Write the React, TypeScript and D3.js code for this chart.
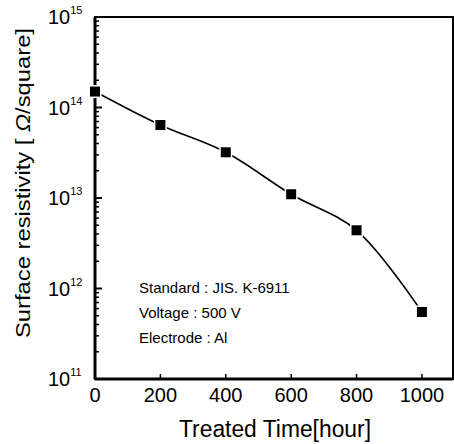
import * as d3 from "d3";

// treated time (hour) and measured surface resistivity (ohm/square)
const hours = [0, 200, 400, 600, 800, 1000];
const resistivity = [1.5e14, 6.4e13, 3.2e13, 1.1e13, 4.4e12, 5.5e11];
const xTicks = [0, 200, 400, 600, 800, 1000];
const yExponents = [11, 12, 13, 14, 15];
const notes = ["Standard : JIS. K-6911", "Voltage : 500 V", "Electrode : Al"];

const W = 454;
const H = 444;
const left = 95;
const right = 453;
const top = 17;
const bottom = 379;
const font = "Liberation Sans, Arial, sans-serif";

export default function App() {
  const x = d3.scaleLinear().domain([0, 1095]).range([left, right]);
  const y = d3.scaleLog().domain([1e11, 1e15]).range([bottom, top]);

  const line = d3
    .line<number>()
    .x((_, i) => x(hours[i]))
    .y((d) => y(d))
    .curve(d3.curveCatmullRom.alpha(0.5));

  // minor ticks 2..9 for each decade
  const minor: number[] = [];
  for (let e = 11; e < 15; e++) {
    for (let m = 2; m <= 9; m++) minor.push(m * Math.pow(10, e));
  }

  return (
    <svg
      width={W}
      height={H}
      style={{ position: "absolute", left: 0, top: 0, background: "#fff" }}
      fontFamily={font}
    >
      {/* frame */}
      <rect
        x={left}
        y={top}
        width={right - left}
        height={bottom - top}
        fill="none"
        stroke="#000"
        strokeWidth={2}
      />
      <line x1={left} x2={left} y1={top} y2={bottom} stroke="#000" strokeWidth={3} />
      <line x1={left} x2={right} y1={bottom} y2={bottom} stroke="#000" strokeWidth={3} />

      {/* y ticks */}
      {minor.map((v) => (
        <line key={v} x1={left} x2={left + 4} y1={y(v)} y2={y(v)} stroke="#000" strokeWidth={1.5} />
      ))}
      {yExponents.map((e) => (
        <g key={e}>
          <line
            x1={left}
            x2={left + 7}
            y1={y(Math.pow(10, e))}
            y2={y(Math.pow(10, e))}
            stroke="#000"
            strokeWidth={2}
          />
          <text x={48} y={y(Math.pow(10, e)) + 7} fontSize={20} fill="#000">
            10
            <tspan dy={-10} fontSize={11}>
              {e}
            </tspan>
          </text>
        </g>
      ))}

      {/* x ticks */}
      {xTicks.map((t) => (
        <g key={t}>
          <line x1={x(t)} x2={x(t)} y1={bottom} y2={bottom - 5} stroke="#000" strokeWidth={1.5} />
          <text x={x(t)} y={bottom + 23} fontSize={20} textAnchor="middle" fill="#000">
            {t}
          </text>
        </g>
      ))}

      {/* axis titles */}
      <text
        x={275}
        y={437}
        fontSize={23}
        textAnchor="middle"
        textLength={192}
        lengthAdjust="spacingAndGlyphs"
        fill="#000"
      >
        Treated Time[hour]
      </text>
      <text
        transform="translate(30, 183) rotate(-90)"
        fontSize={21}
        textAnchor="middle"
        textLength={310}
        lengthAdjust="spacingAndGlyphs"
        fill="#000"
      >
        Surface resistivity [ <tspan fontStyle="italic">Ω</tspan>/square]
      </text>

      {/* curve and markers */}
      <path d={line(resistivity) ?? ""} fill="none" stroke="#000" strokeWidth={1.6} />
      {resistivity.map((v, i) => (
        <rect
          key={i}
          x={x(hours[i]) - 5}
          y={y(v) - 5}
          width={10}
          height={10}
          fill="#000"
          stroke="#fff"
          strokeWidth={3}
          paintOrder="stroke"
        />
      ))}

      {/* notes */}
      {notes.map((n, i) => (
        <text key={n} x={139} y={293 + i * 25} fontSize={15} fill="#000">
          {n}
        </text>
      ))}
    </svg>
  );
}
